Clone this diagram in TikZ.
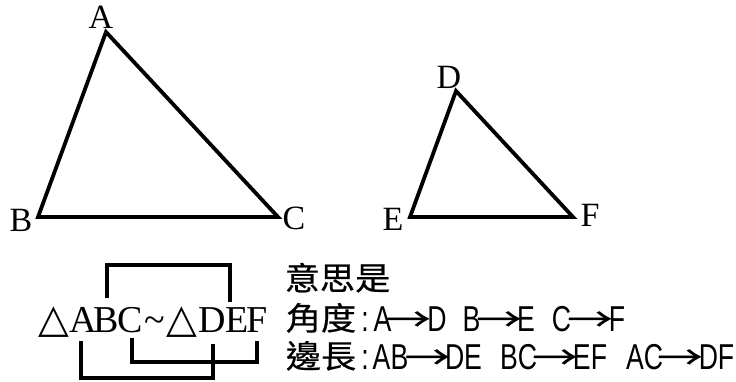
\documentclass[tikz,border=0pt]{standalone}
\usepackage{fontspec}
\setmainfont{Liberation Serif}
\newfontfamily\symf{DejaVu Sans}
\newfontfamily\cjk[FakeStretch=1.1,FakeBold=0.5]{Noto Sans CJK TC}
\newfontfamily\lat[FakeStretch=0.74]{Liberation Sans}
\newcommand\widearrow{\scalebox{1.3}[1]{→}}
\tikzset{
  tri/.style={line width=3.8pt, line join=miter},
  vlab/.style={inner sep=0pt, font=\fontsize{34}{34}\selectfont},
  brk/.style={line width=3.1pt, line join=miter},
  gl/.style={inner sep=0pt, anchor=base, font=\fontsize{38}{38}\selectfont},
  sym/.style={inner sep=0pt, anchor=base, font=\symf\fontsize{40}{40}\selectfont},
  ck/.style={inner sep=0pt, anchor=base, font=\cjk\fontsize{32}{32}\selectfont},
  lt/.style={inner sep=0pt, anchor=base, font=\lat\fontsize{36}{36}\selectfont},
  ar/.style={inner sep=0pt, anchor=base, font=\cjk\fontsize{32}{32}\selectfont},
}
\begin{document}
\begin{tikzpicture}[x=1pt, y=-1pt]
\useasboundingbox (0,0) rectangle (736,382);
% triangle ABC
\coordinate (A) at (106,32);
\coordinate (B) at (38,217);
\coordinate (C) at (278,217);
\draw[tri] (A) -- (B) -- (C) -- cycle;
\node[vlab] (lA) at (101,17) {A};
\node[vlab] (lB) at (21,220) {B};
\node[vlab] (lC) at (294,218) {C};
% triangle DEF
\coordinate (D) at (456,91);
\coordinate (E) at (410,217);
\coordinate (F) at (573,217);
\draw[tri] (D) -- (E) -- (F) -- cycle;
\node[vlab] (lD) at (449,77) {D};
\node[vlab] (lE) at (393,219) {E};
\node[vlab] (lF) at (590,215) {F};
% similarity statement
\node[sym] (t1) at (53.5,332) {△};
\node[gl] (gA) at (83.5,332) {A};
\node[gl] (gB) at (106.5,332) {B};
\node[gl] (gC) at (130.5,332) {C};
\node[gl] (gT) at (154.5,332) {\textasciitilde};
\node[sym] (t2) at (182,332) {△};
\node[gl] (gD) at (212.5,332) {D};
\node[gl] (gE) at (237,332) {E};
\node[gl] (gF) at (257,332) {F};
% brackets
\coordinate (bB) at (107,298);
\coordinate (bE) at (230,302);
\coordinate (bA) at (81,341);
\coordinate (bD) at (213,344);
\coordinate (bC) at (132,338);
\coordinate (bF) at (257,341);
\draw[brk] (bB) -- (107,265) -| (bE);
\draw[brk] (bA) -- (81,378) -| (bD);
\draw[brk] (bC) -- (132,362) -| (bF);
% explanation row 1
\node[ck] (r1) at (337.5,290) {意思是};
% row 2
\node[ck] (r2a) at (321,330) {角度};
\node[lt] (r2b) at (365,331) {:};
\node[lt] (r2c) at (382.5,331) {A};
\node[ar] (r2d) at (408,331) {\widearrow};
\node[lt] (r2e) at (437,331) {D};
\node[lt] (r2f) at (471.5,331) {B};
\node[ar] (r2g) at (499,331) {\widearrow};
\node[lt] (r2h) at (526,331) {E};
\node[lt] (r2i) at (561.5,331) {C};
\node[ar] (r2j) at (590,331) {\widearrow};
\node[lt] (r2k) at (617,331) {F};
% row 3
\node[ck] (r3a) at (321,368) {邊長};
\node[lt] (r3b) at (365,369) {:};
\node[lt] (r3c) at (390.5,369) {AB};
\node[ar] (r3d) at (427.5,369) {\widearrow};
\node[lt] (r3e) at (463.5,369) {DE};
\node[lt] (r3f) at (518.5,369) {BC};
\node[ar] (r3g) at (555,369) {\widearrow};
\node[lt] (r3h) at (590,369) {EF};
\node[lt] (r3i) at (644.5,369) {AC};
\node[ar] (r3j) at (680,369) {\widearrow};
\node[lt] (r3k) at (716.5,369) {DF};
\end{tikzpicture}
\end{document}
